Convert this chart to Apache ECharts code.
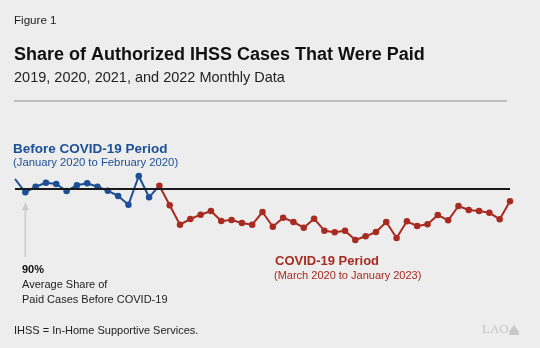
<!DOCTYPE html>
<html><head><meta charset="utf-8">
<script src="https://cdn.jsdelivr.net/npm/echarts@6/dist/echarts.min.js"></script>
<style>html,body{margin:0;padding:0;background:#ecedec;}#c{width:540px;height:348px;}</style>
</head><body><div id="c"></div>
<script>
const months = [
"Jan 2019","Feb 2019","Mar 2019","Apr 2019","May 2019","Jun 2019","Jul 2019","Aug 2019","Sep 2019","Oct 2019","Nov 2019","Dec 2019",
"Jan 2020","Feb 2020","Mar 2020","Apr 2020","May 2020","Jun 2020","Jul 2020","Aug 2020","Sep 2020","Oct 2020","Nov 2020","Dec 2020",
"Jan 2021","Feb 2021","Mar 2021","Apr 2021","May 2021","Jun 2021","Jul 2021","Aug 2021","Sep 2021","Oct 2021","Nov 2021","Dec 2021",
"Jan 2022","Feb 2022","Mar 2022","Apr 2022","May 2022","Jun 2022","Jul 2022","Aug 2022","Sep 2022","Oct 2022","Nov 2022","Dec 2022",
"Jan 2023"];
const beforeCovid = [90.93,89.6,90.16,90.56,90.43,89.73,90.3,90.5,90.16,89.76,89.23,88.36,91.23,89.1];
const duringCovid = [90.26,88.3,86.36,86.93,87.36,87.73,86.73,86.83,86.53,86.36,87.63,86.16,87.06,86.63,86.06,86.96,
  85.76,85.6,85.76,84.83,85.2,85.63,86.63,85.03,86.7,86.23,86.4,87.33,86.8,88.23,87.83,87.73,87.56,86.9,88.7];
const averageBefore = 90;

const BLUE = '#1c4f95', RED = '#a82b21';
const blueData = beforeCovid.map((v,i)=> i===0 ? {value:v, symbol:'none'} : v)
  .concat([{value: duringCovid[0], symbol:'none'}]);
while (blueData.length < months.length) blueData.push(null);
const redData = beforeCovid.map(()=>null).concat(duringCovid);

const chart = echarts.init(document.getElementById('c'), null, {renderer:'canvas'});
const F = '"Liberation Sans", Arial, Helvetica, sans-serif';
chart.setOption({
  backgroundColor:'#ecedec',
  animation:false,
  grid:{left:15, right:30, top:138.3, height:150},
  xAxis:{type:'category', data:months, boundaryGap:false, show:false},
  yAxis:{type:'value', min:80, max:95, show:false},
  series:[
    {type:'line', data:blueData, z:3, symbol:'circle', symbolSize:6.5, showSymbol:true,
     lineStyle:{color:BLUE, width:2}, itemStyle:{color:BLUE}, connectNulls:false,
     markLine:{silent:true, symbol:'none', label:{show:false},
       lineStyle:{color:'#1a1a1a', width:2, type:'solid'}, data:[{yAxis:averageBefore}]}},
    {type:'line', data:redData, z:4, symbol:'circle', symbolSize:6.5,
     lineStyle:{color:RED, width:2}, itemStyle:{color:RED}}
  ]
});
// arrow pointing at Feb 2019 value
const px = chart.convertToPixel({xAxisIndex:0, yAxisIndex:0}, [1, beforeCovid[1]]);
const G = '#cbcbcb';
chart.setOption({graphic:[
  {id:'fig', type:'text', left:14, top:15, style:{text:'Figure 1', font:'11.6px '+F, fill:'#222'}},
  {id:'title', type:'text', left:14, top:46, style:{text:'Share of Authorized IHSS Cases That Were Paid', font:'bold 18px '+F, fill:'#111'}},
  {id:'sub', type:'text', left:14, top:70, style:{text:'2019, 2020, 2021, and 2022 Monthly Data', font:'14.5px '+F, fill:'#222'}},
  {id:'rule', type:'rect', shape:{x:14, y:100.5, width:493, height:1}, style:{fill:'#8f8f8f'}},
  {id:'b1', type:'text', left:13, top:142, style:{text:'Before COVID-19 Period', font:'bold 13.5px '+F, fill:BLUE}},
  {id:'b2', type:'text', left:13, top:157, style:{text:'(January 2020 to February 2020)', font:'11.3px '+F, fill:BLUE}},
  {id:'a1', type:'text', left:22, top:264, style:{text:'90%', font:'bold 11px '+F, fill:'#111'}},
  {id:'a2', type:'text', left:22, top:279, style:{text:'Average Share of', font:'11px '+F, fill:'#222'}},
  {id:'a3', type:'text', left:22, top:294, style:{text:'Paid Cases Before COVID-19', font:'11px '+F, fill:'#222'}},
  {id:'r1', type:'text', left:275, top:255, style:{text:'COVID-19 Period', font:'bold 13px '+F, fill:RED}},
  {id:'r2', type:'text', left:274, top:270, style:{text:'(March 2020 to January 2023)', font:'11px '+F, fill:RED}},
  {id:'note', type:'text', left:14, top:325, style:{text:'IHSS = In-Home Supportive Services.', font:'11px '+F, fill:'#222'}},
  {id:'lao', type:'text', left:482, top:323.5, style:{text:'LAO', font:'13px "Liberation Serif", "DejaVu Serif", serif', fill:'#c4c4c4'}},
  {id:'dome', type:'polygon', shape:{points:[[509,335],[519,335],[518.5,331],[517,329],[515.5,327],[514,325],[512.5,327],[511,329],[509.5,331]]}, style:{fill:'#c8c8c8'}},
  {id:'arrowLine', type:'line', shape:{x1:px[0], y1:px[1]+14, x2:px[0], y2:257}, style:{stroke:G, lineWidth:1.5}},
  {id:'arrowHead', type:'polygon', shape:{points:[[px[0]-3.5, px[1]+18],[px[0]+3.5, px[1]+18],[px[0], px[1]+10]]}, style:{fill:G}}
]});
</script></body></html>
